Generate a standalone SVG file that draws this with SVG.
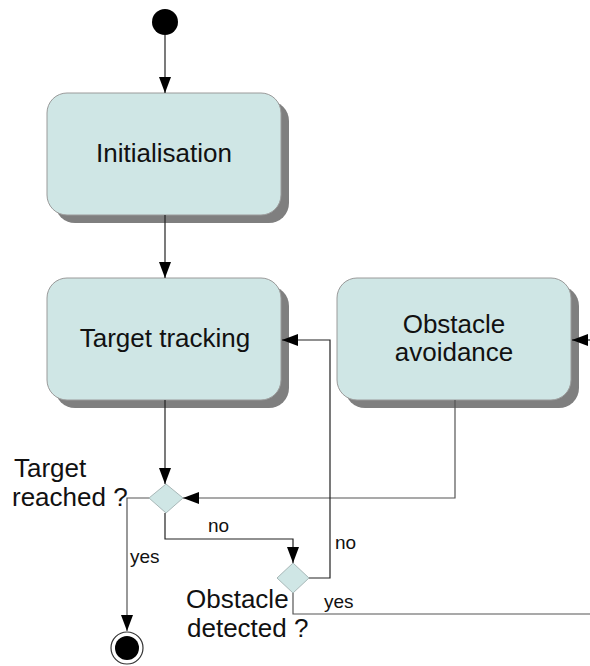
<svg xmlns="http://www.w3.org/2000/svg" width="590" height="666" viewBox="0 0 590 666">
<style>
.shadow{fill:#7f7f7f}
.box{fill:#cfe6e5;stroke:#9a9a9a;stroke-width:1}
.dia{fill:#cfe6e5;stroke:#a8b8b8;stroke-width:1}
.big{font-family:"Liberation Sans",Arial,sans-serif;font-size:26px;fill:#111}
.small{font-family:"Liberation Sans",Arial,sans-serif;font-size:19px;fill:#111}
.c{text-anchor:middle}
.ln{fill:none;stroke:#222;stroke-width:1.2}
.lg{fill:none;stroke:#555;stroke-width:1.2}
</style>
<defs>
<marker id="ah" markerUnits="userSpaceOnUse" markerWidth="16" markerHeight="12" refX="16" refY="6" orient="auto">
<path d="M0,0 L16,6 L0,12 z" fill="#000"/>
</marker>
</defs>
<rect width="590" height="666" fill="#fff"/>

<g id="start">
<circle cx="165" cy="22" r="13" fill="#000"/>
</g>

<g id="initialisation">
<rect class="shadow" x="55" y="101" width="234" height="122" rx="20"/>
<rect class="box" x="47" y="93" width="234" height="122" rx="20"/>
<text class="big c" x="164" y="162">Initialisation</text>
</g>

<g id="target-tracking">
<rect class="shadow" x="55" y="286" width="234" height="122" rx="20"/>
<rect class="box" x="47" y="278" width="234" height="122" rx="20"/>
<text class="big c" x="165" y="347">Target tracking</text>
</g>

<g id="obstacle-avoidance">
<rect class="shadow" x="345" y="286" width="234" height="122" rx="20"/>
<rect class="box" x="337" y="278" width="234" height="122" rx="20"/>
<text class="big c" x="454" y="333">Obstacle</text>
<text class="big c" x="454" y="361">avoidance</text>
</g>

<g id="target-reached">
<polygon class="dia" points="166,484 183,498 166,513 149,498"/>
<text class="big" x="14" y="477">Target</text>
<text class="big" x="12" y="506">reached ?</text>
</g>

<g id="obstacle-detected">
<polygon class="dia" points="293,563 309,578 293,593 277,578"/>
<text class="big" x="186" y="608">Obstacle</text>
<text class="big" x="187" y="637">detected ?</text>
</g>

<g id="end">
<circle cx="127" cy="648" r="16" fill="#fff" stroke="#333" stroke-width="1.2"/>
<circle cx="127" cy="648" r="12" fill="#000"/>
</g>

<g id="connectors">
<path class="ln" d="M165,35 V93" marker-end="url(#ah)"/>
<path class="ln" d="M165,215 V278" marker-end="url(#ah)"/>
<path class="ln" d="M590,340 H572" marker-end="url(#ah)"/>
<path class="ln" d="M165,400 V484" marker-end="url(#ah)"/>
<path class="lg" d="M455,400 V498 H183" marker-end="url(#ah)"/>
<path class="lg" d="M149,498 H127 V631" marker-end="url(#ah)"/>
<path class="ln" d="M165,513 V539 H293 V563" marker-end="url(#ah)"/>
<path class="ln" d="M309,578 H330 V340 H282" marker-end="url(#ah)"/>
<path class="lg" d="M293,593 V614 H590"/>
</g>

<g id="labels">
<text class="small" x="208" y="532">no</text>
<text class="small" x="130" y="563">yes</text>
<text class="small" x="335" y="549">no</text>
<text class="small" x="324" y="608">yes</text>
</g>
</svg>
